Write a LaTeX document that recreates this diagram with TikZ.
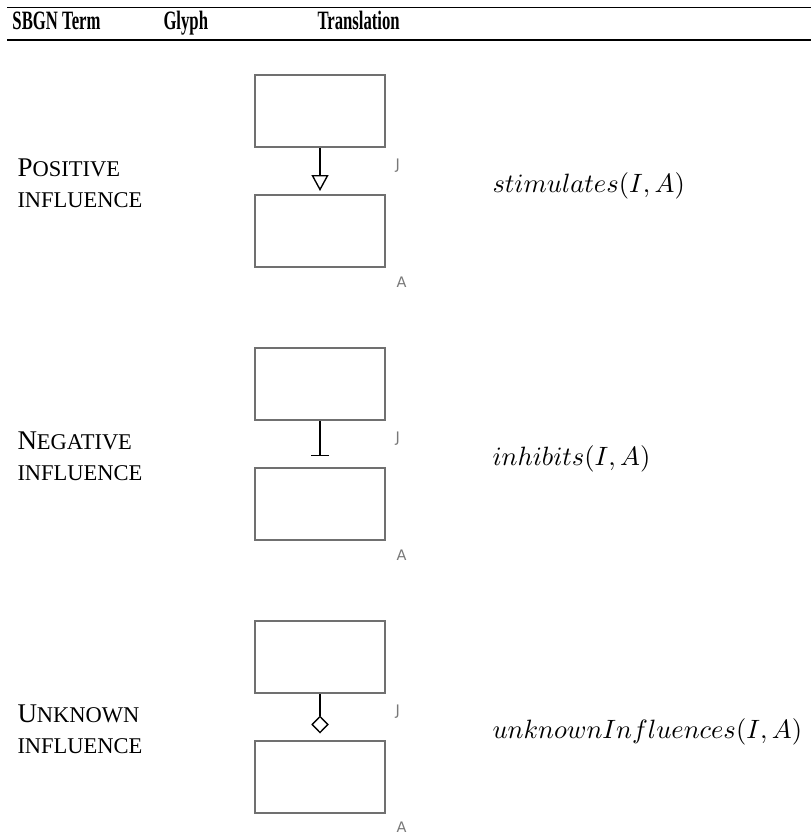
\RequirePackage{fix-cm}
\documentclass[tikz,border=0pt]{standalone}
\usepackage[no-math]{fontspec}
\setmainfont{Liberation Serif}
\newfontfamily\tagfont{DejaVu Sans}
\usetikzlibrary{arrows.meta}
\definecolor{boxgray}{RGB}{112,112,112}
\definecolor{taggray}{RGB}{120,120,120}

% capital initial followed by reduced capitals
\newcommand\capsinit[2]{{\fontsize{10.8}{12}\selectfont #1}{\fontsize{9}{11}\selectfont #2}}
\newcommand\capsrest[1]{{\fontsize{9}{11}\selectfont #1}}
\newcommand\hdrtext[1]{\scalebox{0.63}[1]{#1}}

\begin{document}
\begin{tikzpicture}[x=0.4pt,y=-0.4pt,
  glyphbox/.style={draw=boxgray,line width=0.8pt,minimum width=52pt,minimum height=28.8pt,inner sep=0pt},
  link/.style={line width=0.55pt,black},
  txt/.style={anchor=base west,inner sep=0pt},
  hdr/.style={txt,font=\bfseries\fontsize{10.6}{12}\selectfont},
  term/.style={txt},
  trans/.style={txt,font=\fontsize{10.6}{13}\selectfont},
  tag/.style={txt,text=taggray,font=\tagfont\fontsize{5.8}{7}\selectfont}]
\useasboundingbox (0,0) rectangle (811,833);

% table rules
\draw[line width=0.55pt] (7,7.3) -- (811,7.3);
\draw[line width=0.5pt] (7,40) -- (811,40);

% header
\node[hdr] (h1) at (12,29.5) {\hdrtext{SBGN Term}};
\node[hdr] (h2) at (163,29.5) {\hdrtext{Glyph}};
\node[hdr] (h3) at (317,29.5) {\hdrtext{Translation}};

% row 1: positive influence
\node[term] (t1a) at (17,176) {\capsinit{P}{OSITIVE}};
\node[term] (t1b) at (17,207) {\capsrest{INFLUENCE}};
\node[glyphbox] (i1) at (320,111) {};
\node[glyphbox] (a1) at (320,231) {};
\node[tag] (j1) at (395,169) {J};
\node[tag] (l1) at (396,287) {A};
\draw[link,-{Triangle[open,length=6.4pt,width=6.8pt]},shorten >=1.2pt] (i1.south) -- (a1.north);
\node[trans] (x1) at (492,192) {$stimulates(I,A)$};

% row 2: negative influence
\node[term] (t2a) at (17,449) {\capsinit{N}{EGATIVE}};
\node[term] (t2b) at (17,480) {\capsrest{INFLUENCE}};
\node[glyphbox] (i2) at (320,384) {};
\node[glyphbox] (a2) at (320,504) {};
\node[tag] (j2) at (395,442) {J};
\node[tag] (l2) at (396,560) {A};
\draw[link,-{Bar[width=7.2pt]},shorten >=4.4pt] (i2.south) -- (a2.north);
\node[trans] (x2) at (492,465) {$inhibits(I,A)$};

% row 3: unknown influence
\node[term] (t3a) at (17,722) {\capsinit{U}{NKNOWN}};
\node[term] (t3b) at (17,753) {\capsrest{INFLUENCE}};
\node[glyphbox] (i3) at (320,657) {};
\node[glyphbox] (a3) at (320,777) {};
\node[tag] (j3) at (395,715) {J};
\node[tag] (l3) at (396,832) {A};
\draw[link,-{Diamond[open,length=7.2pt,width=7pt]},shorten >=2.6pt] (i3.south) -- (a3.north);
\node[trans] (x3) at (492,738) {$unknownInfluences(I,A)$};
\end{tikzpicture}
\end{document}
